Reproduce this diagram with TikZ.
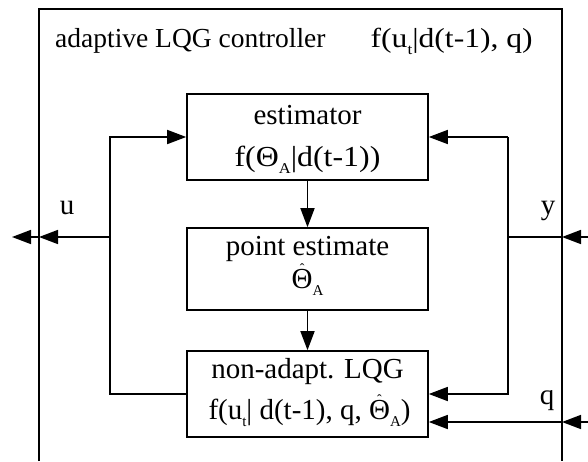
\documentclass[tikz,border=0pt]{standalone}
\usepackage{fontspec}
\setmainfont{Liberation Serif}
\usetikzlibrary{arrows.meta}

% lowered small subscript, as set in the block labels
\newcommand\lowsub[1]{\raisebox{-7pt}{\fontsize{15}{15}\selectfont #1}}
% Theta with a small hat above it
\newcommand\thetahat{{\ooalign{Θ\cr\hidewidth\smash{\raisebox{15pt}{\fontsize{14}{14}\selectfont ˆ}}\hidewidth\cr}}}

\begin{document}
\begin{tikzpicture}[x=1pt,y=-1pt,
    wire/.style={line width=1.6pt},
    tip/.style={-{Triangle[length=19pt,width=14pt]}},
    block/.style={draw,line width=1.6pt,minimum width=241pt,inner sep=0pt},
    txt/.style={anchor=base,inner sep=0pt,font=\fontsize{29}{33}\selectfont},
    head/.style={inner sep=0pt,font=\fontsize{27.5}{32}\selectfont}]
  \useasboundingbox (0,0) rectangle (588,461);

  % controller frame (open at the bottom)
  \coordinate (fbl) at (39,461);
  \coordinate (ftl) at (39,9);
  \coordinate (ftr) at (562,9);
  \coordinate (fbr) at (562,461);
  \draw[wire] (fbl) -- (ftl) -- (ftr) -- (fbr);

  \node[head,anchor=base west] (title) at (55,47) {adaptive LQG controller};
  \node[head,anchor=base east] (titlef) at (533,47) {\scalebox{1.15}[1]{f(u\lowsub{t}|d(t-1), q)}};

  % blocks
  \node[block,minimum height=86pt] (est) at (307.5,137) {};
  \node[block,minimum height=82pt] (pt)  at (307.5,269) {};
  \node[block,minimum height=86pt] (lqg) at (307.5,394) {};

  \node[txt] (est1) at (307.5,124) {estimator};
  \node[txt] (est2) at (307.5,166) {\scalebox{1.1}[1]{f(Θ\lowsub{A}|d(t-1))}};
  \node[txt] (pt1)  at (307.5,255) {point estimate};
  \node[txt] (pt2)  at (307.5,288) {\thetahat\lowsub{A}};
  \node[txt] (lqg1) at (307.5,378) {non-adapt. LQG};
  \node[txt] (lqg2) at (309.5,419) {f(u\lowsub{t}| d(t-1), q, \thetahat\lowsub{A})};

  % chain of blocks
  \draw[wire,tip] (est) -- (pt);
  \draw[wire,tip] (pt) -- (lqg);

  % control feedback on the left
  \coordinate (lb) at (110,394);
  \coordinate (lt) at (110,137);
  \coordinate (uj) at (110,237);
  \coordinate (uin) at (39,237);
  \coordinate (uout) at (12,237);
  \draw[wire,tip] (lqg.west) -- (lb) -- (lt) -- (est.west);
  \draw[wire,tip] (uj) -- (uin);
  \draw[wire,tip] (uin) -- (uout);
  \node[txt] (ulab) at (67,214) {u};

  % measured output on the right
  \coordinate (rt) at (508,137);
  \coordinate (rb) at (508,394);
  \coordinate (yj) at (508,237);
  \coordinate (yin) at (562,237);
  \coordinate (ysrc) at (590,237);
  \draw[wire,tip] (ysrc) -- (yin);
  \draw[wire] (yin) -- (yj);
  \draw[wire,tip] (rt) -- (est.east);
  \draw[wire,tip] (rt) -- (rb) -- (lqg.east);
  \node[txt] (ylab) at (548,214) {y};

  % criterion parameter q
  \coordinate (qsrc) at (590,422);
  \coordinate (qin) at (562,422);
  \draw[wire,tip] (qsrc) -- (qin);
  \draw[wire,tip] (qin) -- (lqg.east |- qin);
  \node[txt] (qlab) at (547,404) {q};
\end{tikzpicture}
\end{document}
